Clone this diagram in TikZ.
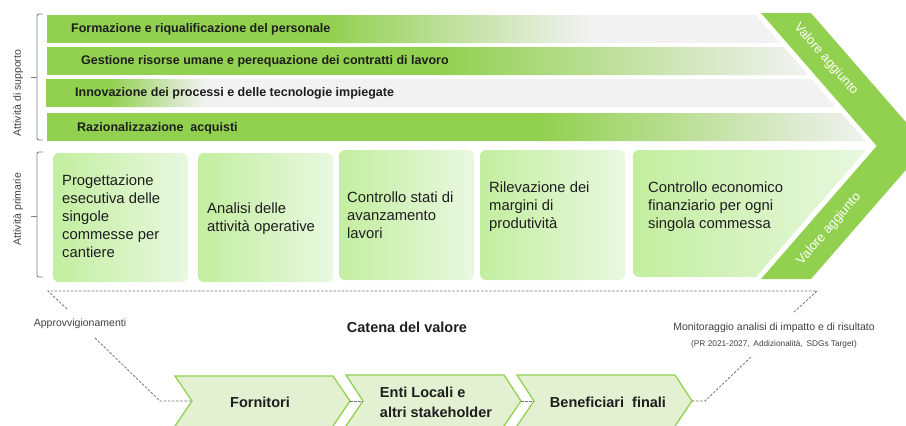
\documentclass[tikz,border=0pt]{standalone}
\usepackage{fontspec}
\setmainfont{Liberation Sans}
\definecolor{vgreen}{HTML}{92D050}
\definecolor{bargray}{HTML}{F2F2F2}
\definecolor{boxleft}{HTML}{C3EE9F}
\definecolor{boxright}{HTML}{E8F8E0}
\definecolor{arrowfill}{HTML}{E3F1D2}
\definecolor{txt}{HTML}{1E1E1E}
\definecolor{lbl}{HTML}{404040}
\begin{document}
\begin{tikzpicture}[x=1pt,y=-1pt]
\tikzset{
 bartext/.style={anchor=west, inner sep=0, font=\bfseries\fontsize{12.5}{15}\selectfont, text=txt},
 boxtext/.style={anchor=north west, inner sep=0, align=left, font=\fontsize{14.8}{18}\selectfont, text=txt},
 sidelabel/.style={rotate=90, inner sep=0, font=\fontsize{10.5}{12}\selectfont, text=lbl},
 bracketline/.style={draw=black!50, line width=0.9pt, rounded corners=2pt},
 dashline/.style={draw=black!55, line width=0.8pt, dash pattern=on 2.5pt off 1.6pt},
 chainarrow/.style={fill=arrowfill, draw=vgreen, line width=1.3pt},
 chaintext/.style={inner sep=0, font=\bfseries\fontsize{14.5}{20}\selectfont, text=txt},
 valtext/.style={text=white, inner sep=0, font=\fontsize{13}{15}\selectfont},
 notetext/.style={inner sep=0, text=lbl, font=\fontsize{10.5}{12}\selectfont},
 boxshade/.style={left color=boxleft, right color=boxright, rounded corners=6pt}
}
\useasboundingbox (0,0) rectangle (906,426);
\clip (0,0) rectangle (906,426);

% ---------- support bars ----------
% bar 1
\begin{scope}
\clip (47,15) -- (755.7,15) -- (780,43) -- (47,43) -- cycle;
\fill[bargray] (40,10) rectangle (800,50);
\fill[vgreen] (47,15) rectangle (330,43);
\shade[left color=vgreen, right color=bargray] (329.5,15) rectangle (590,43);
\end{scope}
% bar 2
\begin{scope}
\clip (47,47) -- (783.6,47) -- (808,75) -- (47,75) -- cycle;
\fill[bargray] (40,40) rectangle (820,80);
\fill[vgreen] (47,47) rectangle (440,75);
\shade[left color=vgreen, right color=bargray] (439.5,47) rectangle (810,75);
\end{scope}
% bar 3
\begin{scope}
\clip (46,79) -- (811.4,79) -- (835.8,107) -- (46,107) -- cycle;
\fill[bargray] (40,75) rectangle (840,110);
\fill[vgreen] (46,79) rectangle (110,107);
\shade[left color=vgreen, right color=bargray] (109.5,79) rectangle (205,107);
\end{scope}
% bar 4
\begin{scope}
\clip (47,113) -- (841,113) -- (865.4,141) -- (47,141) -- cycle;
\fill[bargray] (40,110) rectangle (870,145);
\fill[vgreen] (47,113) rectangle (540,141);
\shade[left color=vgreen, right color=bargray] (539.5,113) rectangle (870,141);
\end{scope}

\node[bartext] (s1) at (71,29) {Formazione e riqualificazione  del personale};
\node[bartext] (s2) at (81,61) {Gestione risorse umane e perequazione dei contratti di lavoro};
\node[bartext] (s3) at (75,93) {Innovazione dei processi e delle tecnologie impiegate};
\node[bartext] (s4) at (77,128) {Razionalizzazione \ acquisti};

% ---------- chevron ----------
\fill[vgreen] (761,13) -- (811,13) -- (926.7,146) -- (811,279) -- (761,279) -- (876.7,146) -- cycle;
\node[valtext, rotate=-49] (va1) at (826,59) {Valore aggiunto};
\node[valtext, rotate=49] (va2) at (829,229) {Valore aggiunto};

% ---------- brackets ----------
\draw[bracketline] (43,14) -- (37,14) -- (37,140) -- (43,140);
\draw[bracketline] (37,77) -- (31,77);
\draw[bracketline] (43,152) -- (37,152) -- (37,277) -- (43,277);
\draw[bracketline] (37,216) -- (31,216);
\node[sidelabel] (ls) at (18,93) {Attività di supporto};
\node[sidelabel] (lp) at (18,209) {Attività primarie};

% ---------- primary boxes ----------
\shade[boxshade] (53,153) rectangle (188,282);
\shade[boxshade] (198,153) rectangle (333,282);
\shade[boxshade] (339,150) rectangle (474,280);
\shade[boxshade] (480,150) rectangle (625,280);
\shade[left color=boxleft, right color=boxright]
  [rounded corners=6pt] (700,150) -- (633,150) -- (633,277) -- (700,277)
  [sharp corners] -- (756,277) -- (866,150) -- cycle;

\node[boxtext] (p1) at (62,175) {Progettazione\\esecutiva delle\\singole\\commesse per\\cantiere};
\node[boxtext] (p2) at (207,203) {Analisi delle\\attività operative};
\node[boxtext] (p3) at (347,192) {Controllo stati di\\avanzamento\\lavori};
\node[boxtext] (p4) at (489,182) {Rilevazione dei\\margini di\\produtività};
\node[boxtext] (p5) at (648,182) {Controllo economico\\finanziario per ogni\\singola commessa};

% ---------- value chain ----------
\node[inner sep=0, font=\bfseries\fontsize{14.5}{17}\selectfont, text=txt] (cat) at (407,327) {Catena del valore};

\coordinate (fn) at (192,401); \coordinate (ft) at (350,401);
\coordinate (en) at (363,401); \coordinate (et) at (521,401);
\coordinate (bn) at (534,401); \coordinate (bt) at (692,401);
\fill[chainarrow] (175,376) -- (333,376) -- (ft) -- (330.3,430) -- (172.3,430) -- (fn) -- cycle;
\fill[chainarrow] (346,375) -- (504,375) -- (et) -- (501.3,430) -- (343.3,430) -- (en) -- cycle;
\fill[chainarrow] (517,375) -- (675,375) -- (bt) -- (672.3,430) -- (514.3,430) -- (bn) -- cycle;

\node[chaintext] (forn) at (260,402) {Fornitori};
\node[chaintext, align=left] (enti) at (436,402) {Enti Locali e\\altri stakeholder};
\node[chaintext] (ben) at (608,402) {Beneficiari \ finali};

% ---------- dashed connectors ----------
\node[notetext] (appr) at (80,324) {Approvvigionamenti};
\node[notetext] (mon1) at (774,328) {Monitoraggio analisi di impatto e di risultato};
\node[inner sep=0, text=lbl, font=\fontsize{8.3}{10}\selectfont] (mon2) at (774,344) {(PR 2021-2027,\, Addizionalità,\, SDGs Target)};

\coordinate (tl) at (48,291); \coordinate (tr) at (817,291);
\coordinate (a1) at (67,309); \coordinate (a2) at (95,338); \coordinate (a3) at (160,401);
\coordinate (m1) at (793,313); \coordinate (m2) at (752,356); \coordinate (m3) at (705,401);

\draw[dashline] (a1) -- (tl) -- (tr) -- (m1);
\draw[dashline] (a2) -- (a3) -- (fn);
\draw[dashline] (ft) -- (en);
\draw[dashline] (et) -- (bn);
\draw[dashline] (bt) -- (m3) -- (m2);
\end{tikzpicture}
\end{document}
